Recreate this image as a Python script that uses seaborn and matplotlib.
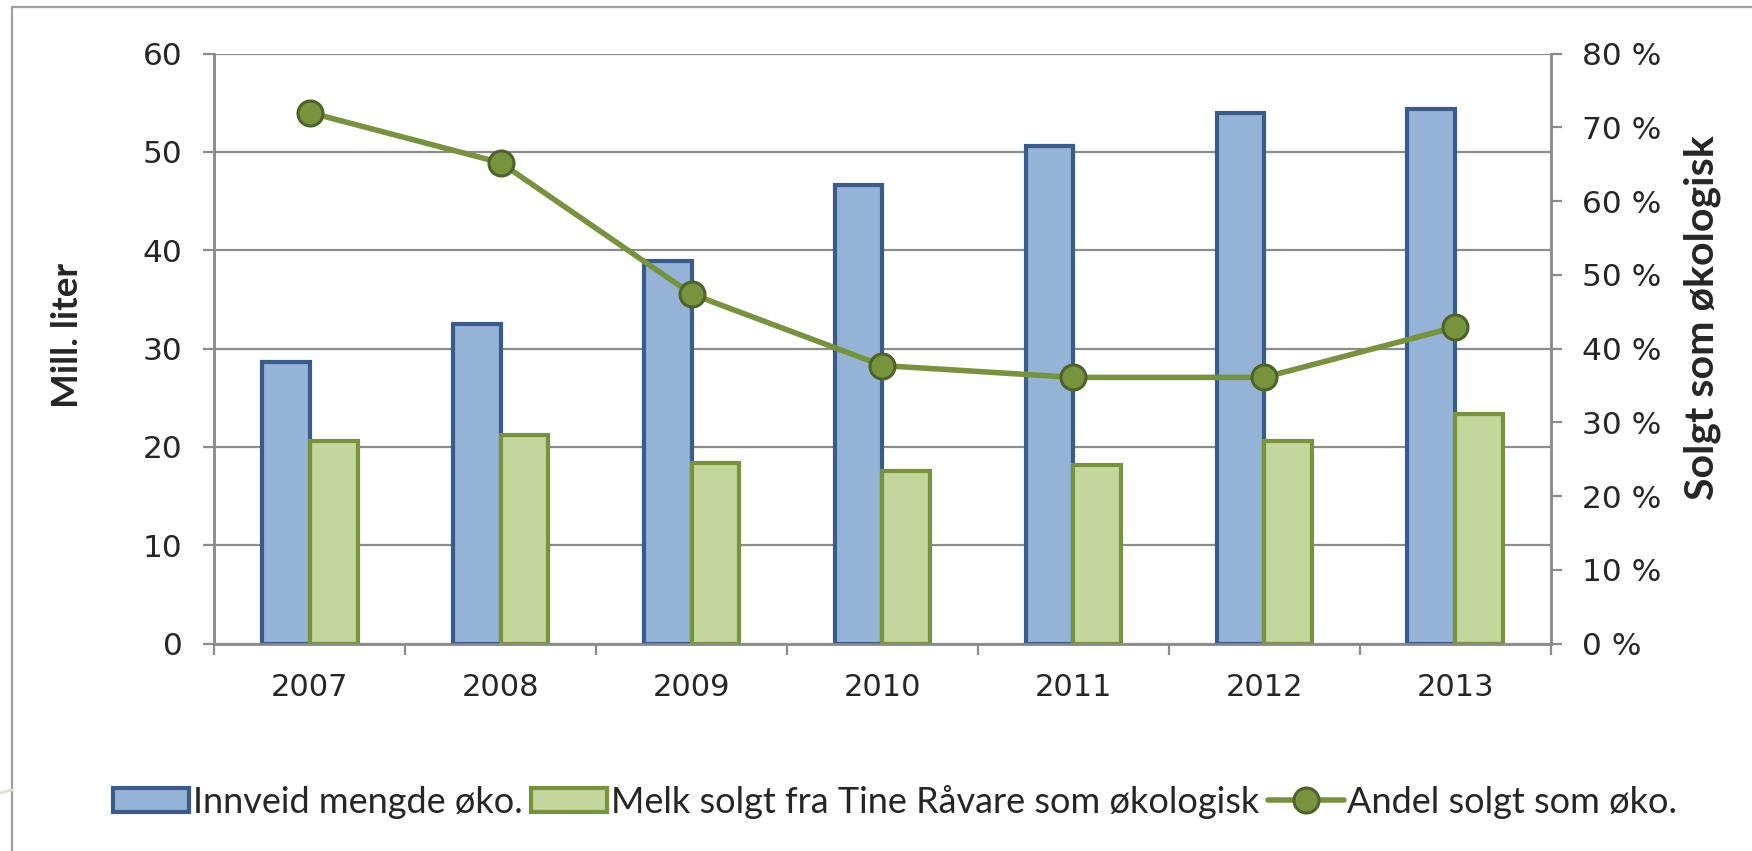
import numpy as np
import pandas as pd
import matplotlib
matplotlib.use('Agg')
import matplotlib.pyplot as plt
from matplotlib.lines import Line2D
from matplotlib.patches import Patch
from matplotlib.ticker import MultipleLocator, FuncFormatter
import seaborn as sns

years = ['2007', '2008', '2009', '2010', '2011', '2012', '2013']
innveid = [28.6, 32.5, 38.9, 46.6, 50.6, 54.0, 54.4]
solgt = [20.6, 21.2, 18.4, 17.6, 18.2, 20.6, 23.4]
andel = [72.0, 65.2, 47.4, 37.7, 36.1, 36.1, 42.9]

lab_inn = 'Innveid mengde øko.'
lab_solgt = 'Melk solgt fra Tine Råvare som økologisk'
lab_andel = 'Andel solgt som øko.'

blue_fill, blue_edge = '#95B3D7', '#385D8A'
green_fill, green_edge = '#C3D69B', '#77933C'
line_col, marker_edge = '#77933C', '#4F6228'
grid_col = '#8C8C8C'

sns.set_style('white')
plt.rcParams['font.family'] = ['DejaVu Sans']

df = pd.DataFrame({
    'year': years * 2,
    'value': innveid + solgt,
    'series': [lab_inn] * len(years) + [lab_solgt] * len(years),
})

fig = plt.figure(figsize=(17.52, 8.51), dpi=100)
ax = fig.add_axes([0.1224, 0.2437, 0.7626, 0.6933])

sns.barplot(data=df, x='year', y='value', hue='series',
            palette=[blue_fill, green_fill], width=0.5, ax=ax,
            legend=False, saturation=1)
for cont, ec in zip(ax.containers, [blue_edge, green_edge]):
    for bar in cont:
        bar.set_edgecolor(ec)
        bar.set_linewidth(3)
        bar.set_zorder(3)

ax.set_xlim(-0.5, 6.5)
ax.set_ylim(0, 60)
ax.yaxis.set_major_locator(MultipleLocator(10))
ax.grid(axis='y', color=grid_col, linewidth=1.6, zorder=0)
ax.set_axisbelow(True)
ax.set_xlabel('')
ax.set_ylabel('Mill. liter', fontsize=26.5, fontweight='bold', family='Lato')
ax.yaxis.set_label_coords(-0.098, 0.523)
ax.tick_params(axis='y', which='major', left=True, length=8, width=1.6,
               color=grid_col, labelsize=22.5, pad=15)
ax.tick_params(axis='x', which='major', length=0, labelsize=22, pad=21)
ax.set_xticks(np.arange(-0.5, 7, 1), minor=True)
ax.tick_params(axis='x', which='minor', bottom=True, length=8, width=1.6,
               color=grid_col)
for s in ['left', 'bottom', 'right']:
    ax.spines[s].set_color(grid_col)
    ax.spines[s].set_linewidth(1.8)
ax.spines['top'].set_visible(False)

ax2 = ax.twinx()
sns.pointplot(x=years, y=andel, ax=ax2, color=line_col, markers='o',
              markersize=18, markeredgecolor=marker_edge, markeredgewidth=2.2,
              linewidth=4, errorbar=None)
ax2.set_xlim(-0.5, 6.5)
ax2.set_ylim(0, 80)
ax2.yaxis.set_major_locator(MultipleLocator(10))
ax2.yaxis.set_major_formatter(FuncFormatter(lambda v, p: '%d %%' % v))
ax2.set_ylabel('Solgt som økologisk', fontsize=29.5, fontweight='bold',
               family='Lato')
ax2.yaxis.set_label_coords(1.0995, 0.553)
ax2.tick_params(axis='y', right=True, length=8, width=1.6, color=grid_col,
                labelsize=22.5, pad=15)
for s in ['left', 'bottom', 'right']:
    ax2.spines[s].set_color(grid_col)
    ax2.spines[s].set_linewidth(1.8)
ax2.spines['top'].set_visible(False)
ax2.grid(False)

handles = [
    Patch(facecolor=blue_fill, edgecolor=blue_edge, linewidth=3),
    Patch(facecolor=green_fill, edgecolor=green_edge, linewidth=3),
    Line2D([], [], color=line_col, linewidth=4, marker='o', markersize=18,
           markerfacecolor=line_col, markeredgecolor=marker_edge,
           markeredgewidth=2.2),
]
fig.legend(handles, [lab_inn, lab_solgt, lab_andel], loc='center',
           bbox_to_anchor=(0.511, 0.058), ncol=3, frameon=False,
           prop={'family': 'Lato', 'size': 26}, handlelength=2.1,
           handleheight=0.65, handletextpad=0.1, columnspacing=0.25)

# chart frame (top and left edges) and the stray green stroke at the left
fig.add_artist(Line2D([12 / 1752, 1], [1 - 7 / 851, 1 - 7 / 851],
                      transform=fig.transFigure, color='#A0A0A0', linewidth=1.6))
fig.add_artist(Line2D([12 / 1752, 12 / 1752], [0, 1 - 7 / 851],
                      transform=fig.transFigure, color='#A0A0A0', linewidth=1.6))
fig.add_artist(Line2D([0, 12 / 1752], [1 - 793 / 851, 1 - 790 / 851],
                      transform=fig.transFigure, color='#D7E4BD', linewidth=2))

fig.savefig('out.png', dpi=100)
